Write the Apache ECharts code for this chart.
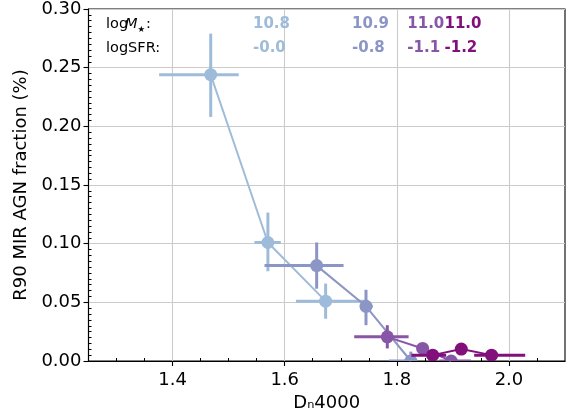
<!DOCTYPE html>
<html>
<head>
<meta charset="utf-8">
<script src="https://cdn.jsdelivr.net/npm/echarts@6/dist/echarts.min.js"></script>
<style>html,body{margin:0;padding:0;background:#fff}#c{width:575px;height:418px}</style>
</head>
<body>
<div id="c"></div>
<script>
// ---- data ----
const xTicks = [1.4, 1.6, 1.8, 2.0];
const yTicks = [0.00, 0.05, 0.10, 0.15, 0.20, 0.25, 0.30];
const massLabels = ['10.8', '10.9', '11.0', '11.0'];
const sfrLabels = ['-0.0', '-0.8', '-1.1', '-1.2'];
const colors = ['#9ebcda', '#8c96c6', '#8856a7', '#810f7c'];

const s1X = [1.468, 1.570, 1.673];
const s1Y = [0.244, 0.101, 0.051];
const s1XLo = [1.376, 1.546, 1.620];
const s1XHi = [1.518, 1.593, 1.748];
const s1YLo = [0.208, 0.0765, 0.036];
const s1YHi = [0.279, 0.1265, 0.066];

const s2X = [1.657, 1.745, 1.825];
const s2Y = [0.0813, 0.0466, 0.0];
const s2XLo = [1.564, 1.735, 1.786];
const s2XHi = [1.705, 1.757, 1.834];
const s2YLo = [0.0616, 0.0305, 0.0];
const s2YHi = [0.101, 0.0607, 0.008];

const s3X = [1.783, 1.846, 1.897];
const s3Y = [0.0206, 0.0107, 0.0];
const s3XLo = [1.724, 1.836, 1.876];
const s3XHi = [1.821, 1.856, 1.932];
const s3YLo = [0.0107, 0.007, 0.0];
const s3YHi = [0.0305, 0.0145, 0.004];

const s4X = [1.864, 1.915, 1.969];
const s4Y = [0.005, 0.0102, 0.005];
const s4XLo = [1.826, 1.905, 1.938];
const s4XHi = [1.888, 1.925, 2.029];
const s4YLo = [0.002, 0.007, 0.002];
const s4YHi = [0.008, 0.0135, 0.008];

// ---- build ----
const groups = [
  [s1X, s1Y, s1XLo, s1XHi, s1YLo, s1YHi],
  [s2X, s2Y, s2XLo, s2XHi, s2YLo, s2YHi],
  [s3X, s3Y, s3XLo, s3XHi, s3YLo, s3YHi],
  [s4X, s4Y, s4XLo, s4XHi, s4YLo, s4YHi]
];

const X_MIN = 1.25, X_MAX = 2.1, Y_MIN = 0, Y_MAX = 0.3;
const xMinor = [], yMinor = [];
for (let k = 26; k <= 41; k++) { const v = +(k * 0.05).toFixed(2); if (Math.abs(v / 0.2 - Math.round(v / 0.2)) > 1e-6) xMinor.push(v); }
for (let k = 1; k < 60; k++) { if (k % 10 !== 0) yMinor.push(+(k * 0.005).toFixed(3)); }

const FONT = 'DejaVu Sans';
const series = [];
groups.forEach((g, gi) => {
  const [X, Y, XL, XH, YL, YH] = g;
  const col = colors[gi];
  const rows = X.map((x, i) => [x, Y[i], XL[i], XH[i], YL[i], YH[i]]);
  series.push({
    type: 'custom', z: 10 + gi * 3, clip: true, data: rows,
    encode: { x: 0, y: 1 },
    renderItem: function (params, api) {
      const l = api.coord([api.value(2), api.value(1)]);
      const r = api.coord([api.value(3), api.value(1)]);
      const b = api.coord([api.value(0), api.value(4)]);
      const t = api.coord([api.value(0), api.value(5)]);
      return { type: 'group', children: [
        { type: 'line', shape: { x1: l[0], y1: l[1], x2: r[0], y2: r[1] }, style: { stroke: col, lineWidth: 3 } },
        { type: 'line', shape: { x1: b[0], y1: b[1], x2: t[0], y2: t[1] }, style: { stroke: col, lineWidth: 3 } }
      ]};
    }
  });
  series.push({
    type: 'line', z: 11 + gi * 3, clip: true, showSymbol: false, symbol: 'none',
    data: X.map((x, i) => [x, Y[i]]),
    lineStyle: { color: col, width: 2 }
  });
  series.push({
    type: 'custom', z: 12 + gi * 3, clip: true, data: rows,
    encode: { x: 0, y: 1 },
    renderItem: function (params, api) {
      const c = api.coord([api.value(0), api.value(1)]);
      return { type: 'circle', shape: { cx: c[0], cy: c[1], r: 6.5 }, style: { fill: col } };
    }
  });
});

const baseAxisLabel = { fontFamily: FONT, fontSize: 18, color: '#000' };
const option = {
  animation: false,
  backgroundColor: '#fff',
  grid: { left: 88.5, top: 6, width: 476.5, height: 355, show: true, borderColor: '#000', borderWidth: 1.1, backgroundColor: 'transparent' },
  xAxis: [
    {
      type: 'value', min: X_MIN, max: X_MAX, position: 'bottom',
      name: 'D\u20994000', nameLocation: 'middle', nameGap: 29,
      nameTextStyle: { fontFamily: FONT, fontSize: 18, color: '#000' },
      axisLine: { show: true, onZero: false, lineStyle: { color: '#000', width: 1.1 } },
      axisTick: { show: true, inside: false, length: 5, customValues: xTicks, lineStyle: { color: '#000', width: 1.1 } },
      axisLabel: Object.assign({ margin: 10, customValues: xTicks, formatter: v => v.toFixed(1) }, baseAxisLabel),
      splitLine: { show: true, lineStyle: { color: '#cbcbcb', width: 1.1 } }
    },
    {
      type: 'value', min: X_MIN, max: X_MAX, position: 'bottom',
      axisLine: { show: false }, axisLabel: { show: false }, splitLine: { show: false },
      axisTick: { show: true, inside: true, length: 3, customValues: xMinor, lineStyle: { color: '#000', width: 1 } }
    }
  ],
  yAxis: [
    {
      type: 'value', min: Y_MIN, max: Y_MAX, interval: 0.05, position: 'left',
      name: 'R90 MIR AGN fraction (%)', nameLocation: 'middle', nameGap: 52,
      nameTextStyle: { fontFamily: FONT, fontSize: 18, color: '#000' },
      axisLine: { show: true, onZero: false, lineStyle: { color: '#000', width: 1.1 } },
      axisTick: { show: true, inside: false, length: 5, customValues: yTicks, lineStyle: { color: '#000', width: 1.1 } },
      axisLabel: Object.assign({ margin: 7, customValues: yTicks, formatter: v => v.toFixed(2) }, baseAxisLabel),
      splitLine: { show: true, lineStyle: { color: '#cbcbcb', width: 1.1 } }
    },
    {
      type: 'value', min: Y_MIN, max: Y_MAX, position: 'left',
      axisLine: { show: false }, axisLabel: { show: false }, splitLine: { show: false },
      axisTick: { show: true, inside: true, length: 3, customValues: yMinor, lineStyle: { color: '#000', width: 1 } }
    }
  ],
  series: series
};

// annotation text (pixel placement inside the axes)
const annX = [253, 352, 407.3, 444.5];
const row1 = 24.5, row2 = 48.5;
const graphic = [
  { type: 'text', x: 106, y: row1, style: { text: 'log', fontFamily: FONT, fontSize: 14.5, fill: '#000', verticalAlign: 'middle' } },
  { type: 'text', x: 125, y: row1, style: { text: 'M', fontFamily: FONT, fontStyle: 'italic', fontSize: 14.5, fill: '#000', verticalAlign: 'middle' } },
  { type: 'text', x: 137.5, y: row1 + 5, style: { text: '\u2605', fontFamily: FONT, fontSize: 8.5, fill: '#000', verticalAlign: 'middle' } },
  { type: 'text', x: 146, y: row1, style: { text: ':', fontFamily: FONT, fontSize: 14.5, fill: '#000', verticalAlign: 'middle' } },
  { type: 'text', x: 106, y: row2, style: { text: 'logSFR:', fontFamily: FONT, fontSize: 14.5, fill: '#000', verticalAlign: 'middle' } }
];
massLabels.forEach((t, i) => {
  graphic.push({ type: 'text', x: annX[i], y: row1, z: 100, style: { text: t, fontFamily: FONT, fontWeight: 'bold', fontSize: 15, fill: colors[i], verticalAlign: 'middle' } });
  graphic.push({ type: 'text', x: annX[i], y: row2, z: 100, style: { text: sfrLabels[i], fontFamily: FONT, fontWeight: 'bold', fontSize: 15, fill: colors[i], verticalAlign: 'middle' } });
});
option.graphic = graphic;

const chart = echarts.init(document.getElementById('c'), null, { renderer: 'canvas' });
chart.setOption(option);
</script>
</body>
</html>
